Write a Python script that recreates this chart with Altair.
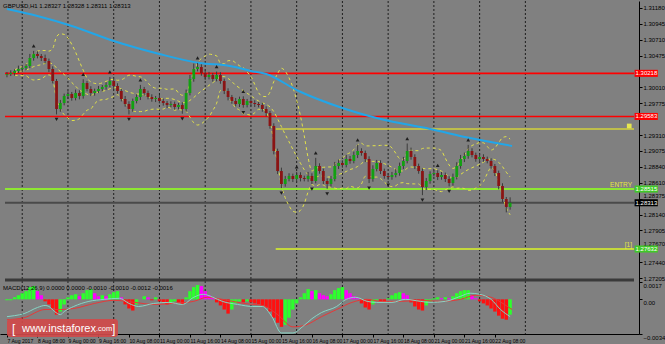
import json
import altair as alt
import pandas as pd
import numpy as np

# ---------------- data ----------------
# 2-hour candles (x = hourly bar index, weekends skipped), closes in price
closes = [
    1.30208, 1.30223, 1.30253, 1.30282, 1.30297, 1.30326, 1.30444, 1.30503, 1.30473, 1.30444,
    1.30400, 1.30282, 1.30105, 1.29693, 1.29782, 1.29885, 1.29914, 1.29855, 1.29929, 1.29885,
    1.30076, 1.29988, 1.29929, 1.29958, 1.29988, 1.30017, 1.30047, 1.30105, 1.30032, 1.29958,
    1.29840, 1.29767, 1.29693, 1.29811, 1.29870, 1.29988, 1.29929, 1.29870, 1.29840, 1.29855,
    1.29811, 1.29782, 1.29752, 1.29767, 1.29723, 1.29752, 1.29693, 1.29929, 1.30135, 1.30282,
    1.30311, 1.30223, 1.30164, 1.30194, 1.30135, 1.30194, 1.30105, 1.29958, 1.29870, 1.29811,
    1.29767, 1.29840, 1.29752, 1.29811, 1.29782, 1.29767, 1.29752, 1.29693, 1.29634, 1.29443,
    1.29075, 1.28780, 1.28589, 1.28663, 1.28707, 1.28663, 1.28722, 1.28677, 1.28663, 1.28707,
    1.28633, 1.28854, 1.28780, 1.28633, 1.28589, 1.28663, 1.28854, 1.28898, 1.28869, 1.28957,
    1.28928, 1.29016, 1.29075, 1.29046, 1.28957, 1.28663, 1.28810, 1.28898, 1.28780, 1.28707,
    1.28692, 1.28722, 1.28751, 1.28854, 1.28928, 1.29075, 1.28987, 1.28854, 1.28780, 1.28545,
    1.28633, 1.28736, 1.28751, 1.28692, 1.28722, 1.28663, 1.28604, 1.28692, 1.28854, 1.28957,
    1.29001, 1.29075, 1.29016, 1.28957, 1.28987, 1.28957, 1.28928, 1.28854, 1.28751, 1.28560,
    1.28368, 1.28251, 1.28313,
]
first_open = 1.30195
# upper / lower wick lengths in points (0.00001)
hi_ext = [
    30, 40, 25, 50, 35, 30, 60, 45, 40, 30,
    50, 35, 40, 30, 45, 35, 40, 30, 50, 40,
    55, 30, 40, 35, 45, 30, 40, 60, 35, 40,
    30, 45, 40, 35, 40, 60, 30, 35, 40, 30,
    45, 35, 30, 40, 35, 30, 40, 50, 60, 80,
    60, 40, 35, 45, 30, 50, 40, 35, 40, 30,
    45, 35, 40, 30, 35, 40, 30, 35, 40, 30,
    40, 35, 50, 45, 40, 35, 45, 40, 35, 60,
    40, 120, 40, 35, 40, 45, 60, 50, 40, 60,
    45, 50, 90, 40, 35, 40, 55, 45, 40, 35,
    40, 45, 60, 50, 60, 110, 50, 40, 35, 40,
    45, 40, 35, 40, 45, 35, 40, 50, 55, 60,
    50, 90, 40, 35, 45, 40, 35, 40, 30, 35,
    40, 30, 80,
]
lo_ext = [
    35, 30, 40, 30, 45, 35, 30, 40, 35, 45,
    40, 45, 35, 80, 40, 35, 45, 40, 35, 50,
    40, 35, 45, 40, 30, 35, 40, 35, 45, 40,
    35, 40, 80, 40, 35, 45, 40, 35, 40, 45,
    35, 40, 45, 35, 40, 35, 70, 40, 35, 40,
    35, 40, 45, 35, 40, 35, 40, 45, 50, 40,
    35, 45, 40, 35, 40, 45, 35, 40, 50, 40,
    50, 45, 60, 40, 35, 45, 40, 50, 35, 40,
    45, 35, 40, 45, 70, 40, 35, 45, 40, 35,
    40, 35, 45, 40, 45, 60, 40, 35, 45, 40,
    45, 40, 35, 40, 45, 35, 40, 45, 40, 120,
    45, 40, 35, 45, 40, 45, 50, 40, 35, 40,
    45, 40, 35, 40, 45, 40, 35, 40, 45, 50,
    45, 80, 40,
]
# MACD histogram per candle, in units of 0.0001
hist_e4 = [
    -1, -1, 2, 4, 6, 8, 12, 13, 8, 4,
    -2, -5, -9, -15, -12, -5, 2, 4, 5, 3,
    6, 9, 10, 6, 3, 4, 3, 5, 7, 8,
    2, -5, -9, -11, -5, 0, 3, 2, -1, 2,
    -2, -3, -5, -4, -2, -3, -5, 2, 8, 12,
    14, 13, 8, 4, 2, -3, -6, -10, -14, -10,
    -4, -2, -3, -2, -3, -4, -5, -6, -8, -12,
    -18, -23, -27, -25, -18, -10, -4, 2, 6, 10,
    8, 9, 6, 4, 3, 5, 9, 11, 12, 9,
    6, 3, 1, -4, -8, -10, -5, -1, -2, -3,
    1, 4, 6, 7, 6, 4, -3, -7, -10, -11,
    -6, -2, 1, 2, 1, 2, 1, 3, 6, 8,
    9, 9, 4, 1, -2, -4, -6, -9, -12, -16,
    -19, -20, -15,
]
# MACD main (teal) and signal (red) lines, units of 0.0001
macd_x = [0, 4, 9, 16, 20, 22, 25, 28, 30, 35, 43, 51, 59, 64, 69, 77, 85, 92, 98, 103,
          108, 113, 121, 129, 134, 139, 144, 150, 155, 160, 165, 173, 178, 183, 189, 194,
          202, 209, 217, 222, 230, 238, 243, 248, 254, 259, 264]
macd_v = [-17, -16, -14, -8, -6, -7, -12, -15, -12, -7, -2, 0, 1, -4, -7, -4, -3, -5, 2, 5,
          2, -2, -5, -7, -7, -17, -33, -33, -27, -19, -13, -7, 0, 2, -2, -3,
          -3, 0, -2, -3, -2, 3, 6, 5, 0, -10, -17]
sig_x = [0, 9, 20, 28, 35, 46, 56, 67, 77, 87, 98, 105, 113, 124, 134, 142, 150, 157,
         165, 173, 181, 189, 196, 207, 217, 228, 238, 246, 254, 261, 265]
sig_v = [-20, -18, -10, -10, -9, -4, -1, -3, -5, -4, -2, 2, 0, -4, -6, -15, -27, -25,
         -17, -10, -3, 0, -2, -2, -1, -2, 0, 4, 2, -5, -10]
# blue moving average
ma_x = [0, 16, 34, 56, 80, 101, 117, 128, 136, 153, 176, 196, 222, 243, 265]
ma_v = [1.31165, 1.31062, 1.30915, 1.30694, 1.30503, 1.30370, 1.30326, 1.30253,
        1.30208, 1.29958, 1.29708, 1.29546, 1.29399, 1.29266, 1.29149]
# day separators (hourly bar index of midnight)
day_breaks = [8, 32, 56, 80, 104, 128, 152, 176, 200, 224, 248, 272]
# time axis
tick_pos = [0, 16, 32, 48, 64, 80, 96, 112, 128, 144, 160, 176, 192, 208, 224, 240, 256]
tick_labels = ["7 Aug 2017", "8 Aug 08:00", "9 Aug 00:00", "9 Aug 16:00", "10 Aug 08:00",
               "11 Aug 00:00", "11 Aug 16:00", "14 Aug 08:00", "15 Aug 00:00", "15 Aug 16:00",
               "16 Aug 08:00", "17 Aug 00:00", "17 Aug 16:00", "18 Aug 08:00", "21 Aug 00:00",
               "21 Aug 16:00", "22 Aug 08:00"]
price_ticks = [1.31180, 1.30945, 1.30710, 1.30475, 1.30010, 1.29775, 1.29310, 1.29075,
               1.28840, 1.28610, 1.28375, 1.28140, 1.27905, 1.27670, 1.27440, 1.27205]
macd_ticks = [0.0017, 0.0, -0.0034]
# horizontal levels
level_price = [1.30218, 1.29583, 1.29399, 1.28515, 1.28313, 1.27632]
level_from = [None, None, 141, None, None, 141]
level_color = ["#ff0000", "#ff0000", "#d2d23a", "#8ee832", "#4a4a4a", "#c4d83c"]
level_width = [1.6, 1.6, 1.5, 2.0, 2.0, 2.0]
box_price = [1.30218, 1.29583, 1.28515, 1.28313, 1.27632]
box_fill = ["#ff0000", "#ff0000", "#40c828", "#000000", "#40c828"]
box_label = ["1.30218", "1.29583", "1.28515", "1.28313", "1.27632"]
title_text = "GBPUSD,H1  1.28327 1.28328 1.28311 1.28313"
macd_text = "MACD(12,26,9) 0.0000 0.0000 -0.0010 -0.0010 -0.0012 -0.0016"

# ---------------- scales ----------------
XD = [-1.04, 329.0]
PD = [1.26381, 1.31283]
MD = [-0.0034, 0.02926]
FONT = "Liberation Sans"

n = len(closes)
df = pd.DataFrame({"x": [2 * k for k in range(n)], "close": closes})
df["open"] = [first_open] + closes[:-1]
df["high"] = np.maximum(df["open"], df["close"]) + np.array(hi_ext) * 1e-5
df["low"] = np.minimum(df["open"], df["close"]) - np.array(lo_ext) * 1e-5
df["bc"] = np.where(df["close"] >= df["open"], "#12a012", "#8a1414")
roll = df["close"].rolling(10, min_periods=3)
df["bb_mid"] = roll.mean()
df["bb_up"] = df["bb_mid"] + 2 * roll.std(ddof=0)
df["bb_lo"] = df["bb_mid"] - 2 * roll.std(ddof=0)

# fractals
fr_up, fr_dn = [], []
H, L = df["high"].tolist(), df["low"].tolist()
for k in range(2, n - 2):
    if H[k] > max(H[k - 2:k]) and H[k] >= max(H[k + 1:k + 3]):
        fr_up.append((2 * k, H[k]))
    if L[k] < min(L[k - 2:k]) and L[k] <= min(L[k + 1:k + 3]):
        fr_dn.append((2 * k, L[k]))
fu = pd.DataFrame(fr_up, columns=["x", "p"])
fd = pd.DataFrame(fr_dn, columns=["x", "p"])

# MACD histogram
hv = np.array(hist_e4) * 1e-4
diff = np.diff(np.concatenate([[hv[0] - 1e-9], hv]))
hcol = np.where(diff >= 0, "#2cff2c", np.where(hv > 0, "#ff00ff", "#ff1010"))
hdf = pd.DataFrame({"x": df["x"], "h": hv, "z": 0.0, "c": hcol})
mline = pd.DataFrame({"x": macd_x, "v": np.array(macd_v) * 1e-4})
sline = pd.DataFrame({"x": sig_x, "v": np.array(sig_v) * 1e-4})
ma = pd.DataFrame({"x": ma_x, "v": ma_v})

lv = pd.DataFrame({
    "p": level_price,
    "x0": [XD[0] if f is None else f for f in level_from],
    "x1": XD[1],
    "c": level_color,
    "w": level_width,
})
bx = pd.DataFrame({"p": box_price, "c": box_fill, "t": box_label})
bx["x0"] = XD[1] + 0.3
bx["x1"] = XD[1] + 12.5
bx["ylo"] = bx["p"] - 0.00052
bx["yhi"] = bx["p"] + 0.00052

x_axis = alt.Axis(
    orient="bottom", values=tick_pos, title=None, grid=False, tickSize=3, labelPadding=1,
    labelFontSize=5.1, labelFont=FONT, labelAlign="left", labelColor="black",
    domainColor="black", tickColor="black", labelOverlap=False, labelFlush=False,
    labelExpr=json.dumps(tick_labels) + "[round(datum.value/16)]",
)
price_axis = alt.Axis(
    orient="right", values=price_ticks, format=".5f", title=None, grid=False, tickSize=3,
    labelPadding=1, labelFontSize=6, labelFont=FONT, labelColor="black",
    domainColor="black", tickColor="black", labelOverlap=False, labelFlush=False,
    labelBaseline={"expr": "abs(datum.value - 1.28375) < 1e-7 || abs(datum.value - 1.2767) < 1e-7 ? 'bottom' : 'middle'"},
)
macd_axis = alt.Axis(
    orient="right", values=macd_ticks, title=None, grid=False, tickSize=3, domain=False,
    labelPadding=1, labelFontSize=6, labelFont=FONT, labelColor="black", tickColor="black",
    labelOverlap=False, labelFlush=False, labelBaseline="top",
    labelExpr="datum.value == 0 ? '0.00' : format(datum.value, '.4f')",
)


def X(f):
    return alt.X(f, type="quantitative", scale=alt.Scale(domain=XD, nice=False, zero=False), axis=x_axis)


def YP(f, axis=None):
    return alt.Y(f, type="quantitative", scale=alt.Scale(domain=PD, nice=False, zero=False), axis=axis)


def YM(f, axis=None):
    return alt.Y(f, type="quantitative", scale=alt.Scale(domain=MD, nice=False, zero=False), axis=axis)


layers = []
# day separators
layers.append(alt.Chart(pd.DataFrame({"x": day_breaks})).mark_rule(
    color="#1e1e1e", strokeDash=[2, 2], strokeWidth=1).encode(x=X("x")))
# levels
layers.append(alt.Chart(lv).mark_rule().encode(
    x=X("x0"), x2="x1", y=YP("p"), color=alt.Color("c:N", scale=None),
    strokeWidth=alt.StrokeWidth("w:Q", scale=None)))
# bollinger bands
layers.append(alt.Chart(df).transform_fold(["bb_up", "bb_mid", "bb_lo"], as_=["k", "v"]).mark_line(
    color="#e2e24a", strokeDash=[3, 3], strokeWidth=1, interpolate="monotone").encode(
    x=X("x"), y=YP("v"), detail="k:N"))
# moving average
layers.append(alt.Chart(ma).mark_line(color="#22a6e8", strokeWidth=2, interpolate="monotone").encode(
    x=X("x"), y=YP("v")))
# candles
layers.append(alt.Chart(df).mark_rule(color="#3a3a3a", strokeWidth=1).encode(
    x=X("x"), y=YP("low", price_axis), y2="high"))
layers.append(alt.Chart(df).mark_bar(size=2.8).encode(
    x=X("x"), y=YP("open"), y2="close", color=alt.Color("bc:N", scale=None)))
# fractals
layers.append(alt.Chart(fu).mark_point(shape="triangle-up", filled=True, size=14, color="#1e1e1e",
                                       yOffset=-5, opacity=1).encode(x=X("x"), y=YP("p")))
layers.append(alt.Chart(fd).mark_point(shape="triangle-down", filled=True, size=14, color="#1e1e1e",
                                       yOffset=5, opacity=1).encode(x=X("x"), y=YP("p")))
# panel separator
layers.append(alt.Chart(pd.DataFrame({"p": [1.27176], "x0": [XD[0]], "x1": [XD[1]]})).mark_rule(
    color="#3a3a3a", strokeWidth=3).encode(x=X("x0"), x2="x1", y=YP("p")))
# MACD
layers.append(alt.Chart(hdf).mark_bar(size=3.4).encode(
    x=X("x"), y=YM("h", macd_axis), y2="z", color=alt.Color("c:N", scale=None)))
layers.append(alt.Chart(sline).mark_line(color="#e83838", strokeWidth=1, interpolate="monotone").encode(
    x=X("x"), y=YM("v")))
layers.append(alt.Chart(mline).mark_line(color="#86d6c6", strokeWidth=1, interpolate="monotone").encode(
    x=X("x"), y=YM("v")))
# price boxes on the axis
layers.append(alt.Chart(bx).mark_rect().encode(
    x=X("x0"), x2="x1", y=YP("ylo"), y2="yhi", color=alt.Color("c:N", scale=None)))
layers.append(alt.Chart(bx).mark_text(align="left", baseline="middle", dx=1, fontSize=6, font=FONT,
                                      color="white").encode(x=X("x0"), y=YP("p"), text="t:N"))
# line tags
tags = pd.DataFrame({"x": [XD[1], XD[1]], "p": [1.28515, 1.27632], "t": ["ENTRY", "[1]"]})
layers.append(alt.Chart(tags).mark_text(align="right", baseline="bottom", dx=-2, dy=-1, fontSize=6.5,
                                        font=FONT, color="#e6e640").encode(
    x=X("x"), y=YP("p"), text="t:N"))
layers.append(alt.Chart(pd.DataFrame({"x": [XD[1] - 2.5], "p": [1.29399]})).mark_point(
    shape="square", filled=True, size=22, color="#e6e650", opacity=1, yOffset=-3).encode(
    x=X("x"), y=YP("p")))
# titles
layers.append(alt.Chart(pd.DataFrame({"t": [title_text]})).mark_text(
    align="left", baseline="middle", fontSize=6, font=FONT, color="black").encode(
    x=alt.value(3), y=alt.value(5), text="t:N"))
layers.append(alt.Chart(pd.DataFrame({"t": [macd_text]})).mark_text(
    align="left", baseline="middle", fontSize=6, font=FONT, color="black").encode(
    x=alt.value(3), y=alt.value(287), text="t:N"))
# watermark
layers.append(alt.Chart(pd.DataFrame({"a": [1]})).mark_rect(
    color="#d04a4a", cornerRadius=3, opacity=0.92).encode(
    x=alt.value(7), x2=alt.value(118), y=alt.value(318), y2=alt.value(336)))
for txt, xx, fs in [("[", 12, 12), ("www.instaforex", 22, 11), (".com", 96, 7.5), ("]", 112, 12)]:
    layers.append(alt.Chart(pd.DataFrame({"t": [txt]})).mark_text(
        align="left", baseline="middle", fontSize=fs, font=FONT, color="white").encode(
        x=alt.value(xx), y=alt.value(327.5), text="t:N"))

chart = alt.layer(*layers).resolve_scale(y="independent").properties(
    width=665, height=344, padding=0, background="#808080",
    autosize=alt.AutoSizeParams(type="fit", contains="padding"),
).configure_view(stroke=None, fill="#808080")

chart.save("out.html", embed_options={"renderer": "svg", "actions": False})
